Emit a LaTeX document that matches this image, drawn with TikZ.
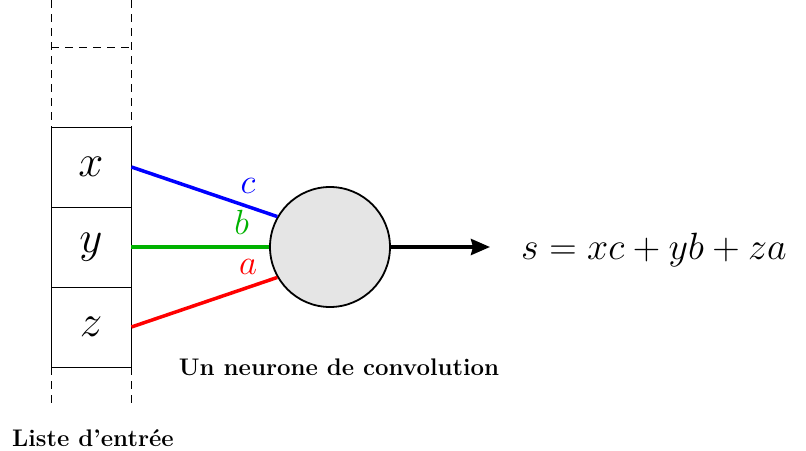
\RequirePackage{fix-cm}
\documentclass[tikz,border=0pt]{standalone}
\usepackage{fontspec}
\usetikzlibrary{arrows.meta}
\begin{document}
\begin{tikzpicture}[x=1pt,y=-1pt,
  cell/.style={draw, line width=0.9pt, minimum width=80pt, minimum height=80pt, inner sep=0pt, font=\fontsize{45}{54}\selectfont},
  dsh/.style={line width=0.9pt, dash pattern=on 8pt off 6pt},
  wire/.style={line width=3.5pt},
  lab/.style={inner sep=0pt, above=11pt, font=\fontsize{35}{42}\selectfont},
  capt/.style={font=\bfseries\fontsize{24}{28}\selectfont, inner sep=0pt}]
\useasboundingbox (0,0) rectangle (806,450);
% dashed continuation of the list
\draw[dsh] (51,0) -- (51,127);
\draw[dsh] (131,0) -- (131,127);
\draw[dsh] (51,47) -- (131,47);
\draw[dsh] (51,367) -- (51,407);
\draw[dsh] (131,367) -- (131,407);
% cells
\node[cell] (cx) at (91,167) {$x$};
\node[cell] (cy) at (91,247) {$y$};
\node[cell] (cz) at (91,327) {$z$};
% neuron
\node[circle, draw, line width=1.8pt, fill=gray!20, minimum size=120pt, inner sep=0pt] (n) at (330,247) {};
% connections
\draw[wire,blue] (cx.east) -- node[lab,pos=0.8,text=blue]{$c$} (n.150);
\draw[wire,green!70!black] (cy.east) -- node[lab,pos=0.8,text=green!70!black]{$b$} (n.west);
\draw[wire,red] (cz.east) -- node[lab,pos=0.8,text=red]{$a$} (n.210);
% output
\coordinate (out) at (490,247);
\draw[line width=3.6pt,-{Stealth[length=19pt,width=16pt,inset=2pt]}] (n.east) -- (out);
\node[anchor=base west, inner sep=0pt, font=\fontsize{38}{46}\selectfont] (eq) at (521,259) {$s = xc + yb + za$};
% captions
\node[capt, anchor=base] (cap1) at (339,375) {Un neurone de convolution};
\node[capt, anchor=base west] (cap2) at (12,446) {Liste d’entrée};
\end{tikzpicture}
\end{document}
